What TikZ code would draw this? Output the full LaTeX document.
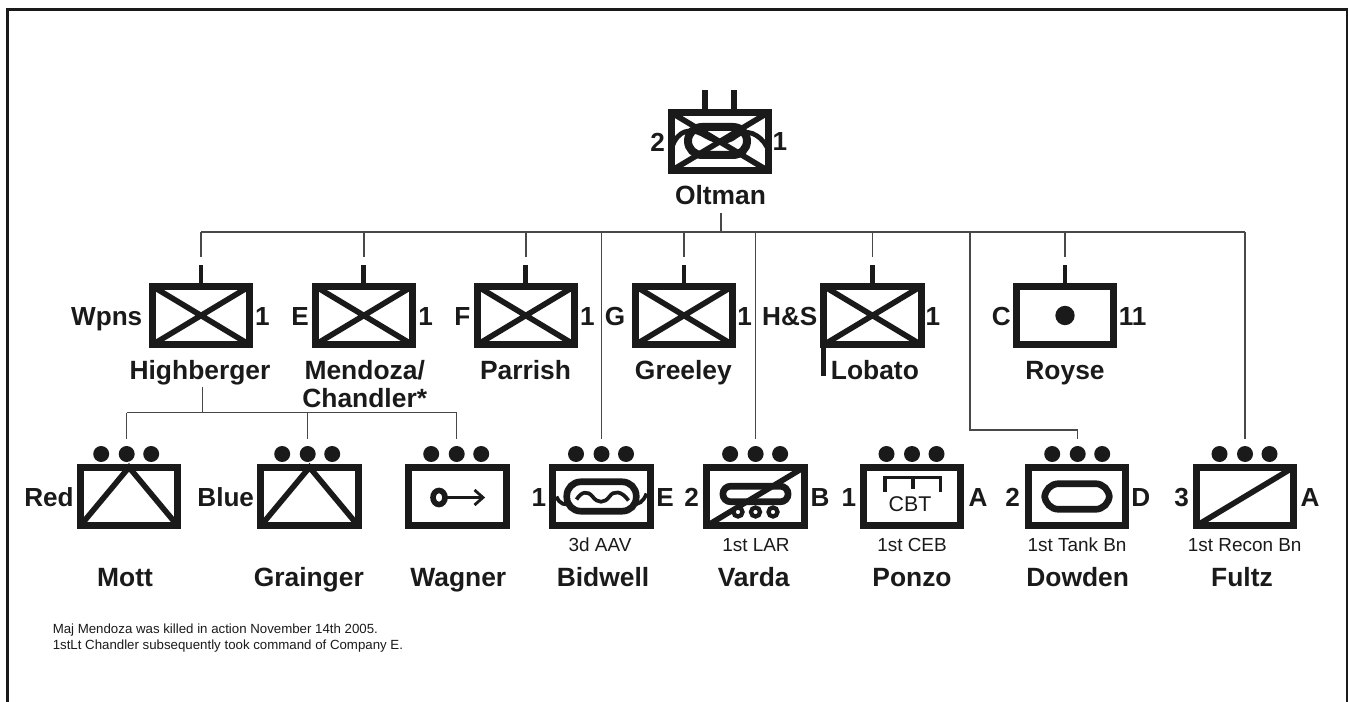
\documentclass[tikz,border=0pt]{standalone}
\usepackage{fontspec}
\setmainfont{Liberation Sans}
\usetikzlibrary{calc}
\definecolor{ink}{HTML}{1A1A1A}
\tikzset{
  x=0.75pt,y=-0.75pt,
  unitbox/.style={draw=ink,line width=5.2pt,rectangle,minimum width=72.9pt,minimum height=43.8pt,inner sep=0pt,outer sep=0pt},
  glyph/.style={draw=ink,line width=4.2pt},
  thinglyph/.style={draw=ink,line width=2.8pt},
  conn/.style={draw=ink!80,line width=1.1pt},
  tickmark/.style={draw=ink,line width=3.6pt},
  pip/.style={circle,fill=ink,minimum size=12pt,inner sep=0pt,outer sep=0pt},
  unitname/.style={font=\bfseries\fontsize{19.8}{20.8}\selectfont,text=ink,inner sep=0pt,align=center,text depth=0pt},
  sidelabel/.style={font=\bfseries\fontsize{19.6}{21}\selectfont,text=ink,inner sep=0pt,text depth=0pt},
  sublabel/.style={font=\fontsize{14.2}{16}\selectfont,text=ink,inner sep=0pt},
  notetext/.style={font=\fontsize{9.95}{12}\selectfont,text=ink,inner sep=0pt,align=left,anchor=north west},
  pill/.style={draw=ink,line width=5pt,rounded corners=10.5pt},
}
\newcommand{\pips}[2]{%
  \node[pip] (#1p1) at (#2-25.5,454) {};
  \node[pip] (#1p2) at (#2,454) {};
  \node[pip] (#1p3) at (#2+24.5,454) {};
}
\newcommand{\xcross}[1]{%
  \draw[glyph] (#1.north west) -- (#1.south east) (#1.south west) -- (#1.north east);
}
\begin{document}
\begin{tikzpicture}
\useasboundingbox (0,0) rectangle (1349,702);
\draw[ink,line width=2.2pt] (7.5,702) -- (7.5,9.5) -- (1347,9.5) -- (1347,702);
% Oltman
\node[unitbox] (olt) at (719.7,141.7) {};
\xcross{olt}
\draw[tickmark,line width=4.5pt] ($(olt.north)+(-14.4,0)$) -- ++(0,-22);
\draw[tickmark,line width=4.5pt] ($(olt.north)+(14,0)$) -- ++(0,-22);
\draw[pill,line width=6pt] (688,127) rectangle (747,155);
\draw[thinglyph,line width=3.6pt] (672,147) .. controls (678,130) and (690,128) .. (702,134) .. controls (712,140) and (724,146) .. (736,136) .. controls (746,128) and (760,134) .. (767,147);
\node[sidelabel] at (657.7,142) {2};
\node[sidelabel] at (780,142) {1};
\node[unitname] (oltn) at (720.5,195) {Oltman};
% Top row
\coordinate (bus) at (721,232);
\foreach \id/\cx/\lab/\num/\lx/\nx in {hb/201/Wpns/1/106.7/262.3,me/363.8/E/1/300/425.7,pa/525.8/F/1/462.3/587.5,gr/684/G/1/615/744.6,lo/872.5/H\&S/1/789.8/933,ro/1065/C/11/1001.4/1132.7}{
  \node[unitbox] (\id) at (\cx,315.5) {};
  \draw[tickmark] (\id.north) -- ++(0,-21.5) coordinate (\id t);
  \draw[conn] (bus -| \id.north) -- ($(\id t)+(0,-7.5)$);
  \node[sidelabel] at (\lx,316.5) {\lab};
  \node[sidelabel] at (\nx,316.5) {\num};
}
\foreach \id in {hb,me,pa,gr,lo}{\xcross{\id}}
\node[circle,fill=ink,minimum size=14.5pt,inner sep=0pt] (rod) at (ro) {};
\draw[tickmark,line width=3.8pt] (lo.south west) -- ++(0,31);
\node[unitname] (hbn) at (200,370) {Highberger};
\node[unitname] (men) at (364.7,384) {Mendoza/\\Chandler*};
\node[unitname] (pan) at (525.5,370) {Parrish};
\node[unitname] (grn) at (683.4,370) {Greeley};
\node[unitname] (lon) at (874.9,370) {Lobato};
\node[unitname] (ron) at (1065,370) {Royse};
% Bottom row
\foreach \id/\cx/\mid in {mo/129/126.7,ga/309.5/307.7,wa/457.5/456.7,bi/601.5/601.5,va/755.5/755.6,po/912/912,do/1077/1077.7,fu/1245/1245}{
  \node[unitbox] (\id) at (\cx,496.5) {};
  \pips{\id}{\mid}
}
% mains
\coordinate (oltj) at (721,213);
\draw[conn] (oltj) -- (bus);
\draw[conn] (hb.north |- bus) -- (fup2 |- bus);
\draw[conn,shorten >=5.5pt] (bus -| bip2) -- (bip2.north);
\draw[conn,shorten >=5.5pt] (bus -| vap2) -- (vap2.north);
\draw[conn,shorten >=5.5pt] (bus -| fup2) -- (fup2.north);
\coordinate (dotop) at (970,232);
\coordinate (dobend) at (970,430);
\draw[conn,shorten >=5.5pt] (dotop) -- (dobend) -- (dobend -| dop2) -- (dop2.north);
\coordinate (hbs) at (202.7,386.7);
\coordinate (hbj) at (202.7,412.7);
\draw[conn] (hbs) -- (hbj);
\draw[conn] (mop2 |- hbj) -- (wap2 |- hbj);
\foreach \id in {mo,ga,wa}{\draw[conn,shorten >=5.5pt] (hbj -| \id p2) -- (\id p2.north);}
% bottom glyphs
\draw[glyph] (mo.south west) -- (mo.north) -- (mo.south east);
\draw[glyph] (ga.south west) -- (ga.north) -- (ga.south east);
\draw[glyph] ($(wa)+(-18.5,1)$) circle [x radius=6,y radius=7];
\draw[thinglyph,line width=2.1pt] ($(wa)+(-12,1)$) -- ($(wa)+(25,1)$);
\draw[thinglyph,line width=2.1pt] ($(wa)+(17,-6.5)$) -- ($(wa)+(25.5,1)$) -- ($(wa)+(17,8.5)$);
% Bidwell
\draw[pill] ($(bi)+(-34.7,-14.7)$) rectangle ($(bi)+(34.7,14.7)$);
\draw[thinglyph] ($(bi)+(-45,0)$) .. controls ($(bi)+(-42,8)$) and ($(bi)+(-36,9)$) .. ($(bi)+(-31,7)$);
\draw[thinglyph] ($(bi)+(45,-3)$) .. controls ($(bi)+(42,5)$) and ($(bi)+(37,9)$) .. ($(bi)+(31,7)$);
\draw[thinglyph] ($(bi)+(-25,3)$) .. controls ($(bi)+(-20,-5)$) and ($(bi)+(-14,-6)$) .. ($(bi)+(-9,0)$) .. controls ($(bi)+(-4,7)$) and ($(bi)+(3,7)$) .. ($(bi)+(8,0)$) .. controls ($(bi)+(12,-6)$) and ($(bi)+(20,-6)$) .. ($(bi)+(27,4)$);
% Varda
\draw[glyph] (va.south west) -- (va.north east);
\draw[pill,rounded corners=5.8pt] ($(va)+(-32.6,-10.3)$) rectangle ($(va)+(32.6,5.3)$);
\foreach \dx/\wn in {-17.5/w1,0/w2,17.5/w3}{\draw[thinglyph,line width=3.2pt,fill=white] ($(va)+(\dx,15.5)$) circle [radius=4.5];}
% Ponzo
\draw[thinglyph] ($(po)+(-27,-4.5)$) -- ($(po)+(-27,-19)$) -- ($(po)+(28.5,-19)$) -- ($(po)+(28.5,-4.5)$);
\draw[thinglyph] ($(po)+(1,-19)$) -- ($(po)+(1,-8)$);
\node[sublabel,font=\fontsize{16}{17}\selectfont] (cbt) at ($(po)+(-2,7.5)$) {CBT};
% Dowden
\draw[pill] ($(do)+(-32.3,-12.8)$) rectangle ($(do)+(32.3,12.8)$);
% Fultz
\draw[glyph] (fu.south west) -- (fu.north east);
% labels
\foreach \t/\x/\y in {Red/49/497.5,Blue/225.7/497.5,1/539/497.5,E/665/497.5,2/691.7/497.5,B/820/497.5,1/849/497.5,A/978/497.5,2/1012.7/497.5,D/1140.7/497.5,3/1181.7/497.5,A/1310/497.5}{\node[sidelabel] at (\x,\y) {\t};}
\foreach \t/\x in {3d AAV/600,1st LAR/756,1st CEB/912,1st Tank Bn/1077,1st Recon Bn/1244.7}{\node[sublabel] at (\x,545) {\t};}
\foreach \t/\x in {Mott/125,Grainger/308.8,Wagner/458.3,Bidwell/603,Varda/753.7,Ponzo/912,Dowden/1077.7,Fultz/1242}{\node[unitname] at (\x,577) {\t};}
\node[notetext] (fn) at (52.5,624) {Maj Mendoza was killed in action November 14th 2005.\\1stLt Chandler subsequently took command of Company E.};
\end{tikzpicture}
\end{document}
